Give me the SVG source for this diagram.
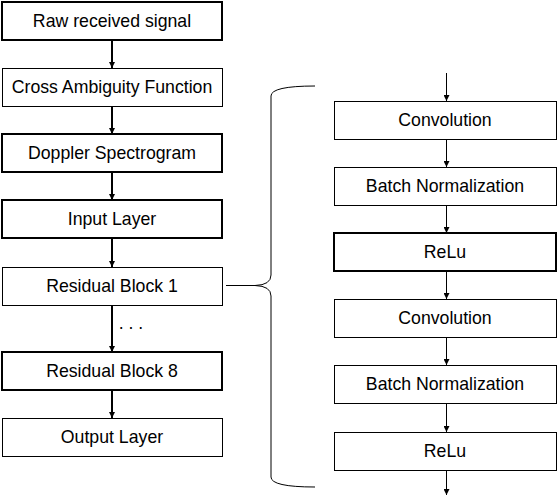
<svg xmlns="http://www.w3.org/2000/svg" width="558" height="496" viewBox="0 0 558 496">
<style>
.box{fill:#fff;stroke:#000;stroke-width:1}
.thick{stroke-width:2}
.lbl{font-family:"Liberation Sans",Arial,sans-serif;font-size:17.7px;fill:#000;text-anchor:middle}
.c1{stroke:#000;stroke-width:2;fill:none}
.c2{stroke:#000;stroke-width:1;fill:none}
</style>
<defs>
<marker id="ahd" viewBox="0 0 10 10" refX="10" refY="5" markerWidth="7" markerHeight="6" orient="auto" markerUnits="userSpaceOnUse">
<path d="M0,0 L10,5 L0,10 Z" fill="#000"/>
</marker>
</defs>
<g id="connectors">
<line class="c1" x1="112" y1="40" x2="112" y2="68" marker-end="url(#ahd)"/>
<line class="c1" x1="112" y1="106" x2="112" y2="134" marker-end="url(#ahd)"/>
<line class="c1" x1="112" y1="172" x2="112" y2="200" marker-end="url(#ahd)"/>
<line class="c1" x1="112" y1="238" x2="112" y2="267" marker-end="url(#ahd)"/>
<line class="c1" x1="112" y1="305" x2="112" y2="352" marker-end="url(#ahd)"/>
<line class="c1" x1="112" y1="390" x2="112" y2="418" marker-end="url(#ahd)"/>
<line class="c2" x1="446.5" y1="73" x2="446.5" y2="101" marker-end="url(#ahd)"/>
<line class="c2" x1="446.5" y1="139" x2="446.5" y2="167" marker-end="url(#ahd)"/>
<line class="c2" x1="446.5" y1="205" x2="446.5" y2="233" marker-end="url(#ahd)"/>
<line class="c2" x1="446.5" y1="271" x2="446.5" y2="299" marker-end="url(#ahd)"/>
<line class="c2" x1="446.5" y1="337" x2="446.5" y2="365" marker-end="url(#ahd)"/>
<line class="c2" x1="446.5" y1="404" x2="446.5" y2="432" marker-end="url(#ahd)"/>
<line class="c2" x1="446.5" y1="470" x2="446.5" y2="495" marker-end="url(#ahd)"/>
<path class="c2" d="M226 285.5 L255 285.5"/>
<path class="c2" d="M315 86 Q271 86 271 96 L271 275 Q271 285 255 285.5 Q271 286 271 296 L271 477 Q271 487 315 487"/>
<text class="lbl" x="131" y="329">. . .</text>
</g>
<g id="n1"><rect class="box thick" x="2" y="2" width="220" height="38"/><text class="lbl" x="112" y="27">Raw received signal</text></g>
<g id="n2"><rect class="box" x="2.5" y="68.5" width="220" height="38"/><text class="lbl" x="112" y="93">Cross Ambiguity Function</text></g>
<g id="n3"><rect class="box thick" x="2" y="134" width="220" height="38"/><text class="lbl" x="112" y="159">Doppler Spectrogram</text></g>
<g id="n4"><rect class="box thick" x="2" y="200" width="220" height="38"/><text class="lbl" x="112" y="225">Input Layer</text></g>
<g id="n5"><rect class="box" x="2.5" y="267.5" width="220" height="38"/><text class="lbl" x="112" y="292">Residual Block 1</text></g>
<g id="n6"><rect class="box thick" x="2" y="352" width="220" height="38"/><text class="lbl" x="112" y="377">Residual Block 8</text></g>
<g id="n7"><rect class="box" x="2.5" y="418.5" width="220" height="38"/><text class="lbl" x="112" y="443">Output Layer</text></g>
<g id="r1"><rect class="box" x="334.5" y="101.5" width="222" height="38"/><text class="lbl" x="445" y="126">Convolution</text></g>
<g id="r2"><rect class="box" x="334.5" y="167.5" width="222" height="38"/><text class="lbl" x="445" y="192">Batch Normalization</text></g>
<g id="r3"><rect class="box thick" x="334" y="233" width="222" height="38"/><text class="lbl" x="445" y="258">ReLu</text></g>
<g id="r4"><rect class="box" x="334.5" y="299.5" width="222" height="38"/><text class="lbl" x="445" y="324">Convolution</text></g>
<g id="r5"><rect class="box" x="334.5" y="365.5" width="222" height="38"/><text class="lbl" x="445" y="390">Batch Normalization</text></g>
<g id="r6"><rect class="box" x="334.5" y="432.5" width="222" height="38"/><text class="lbl" x="445" y="457">ReLu</text></g>
</svg>
